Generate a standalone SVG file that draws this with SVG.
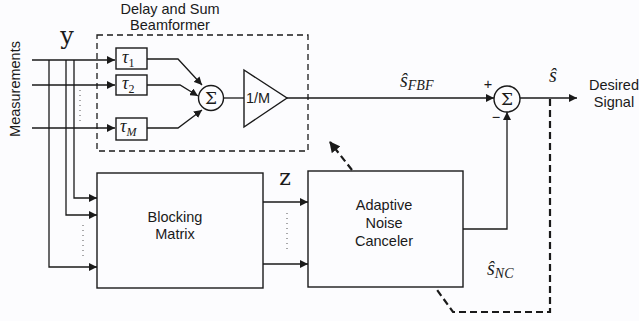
<svg xmlns="http://www.w3.org/2000/svg" width="639" height="321" viewBox="0 0 639 321">
<defs>
<marker id="ah" viewBox="0 0 10 10" refX="10" refY="5" markerWidth="8" markerHeight="8" markerUnits="userSpaceOnUse" orient="auto">
<path d="M0,0 L10,5 L0,10 Z" fill="#1a1a1a"/>
</marker>
<marker id="ahb" viewBox="0 0 10 10" refX="9" refY="5" markerWidth="11" markerHeight="11" markerUnits="userSpaceOnUse" orient="auto">
<path d="M0,0 L10,5 L0,10 Z" fill="#1a1a1a"/>
</marker>
</defs>
<style>
.ln{fill:none;stroke:#1a1a1a;stroke-width:1.3}
.box{fill:none;stroke:#1a1a1a;stroke-width:1.4}
.dash{fill:none;stroke:#1a1a1a;stroke-width:1.3;stroke-dasharray:6,4}
.thick{fill:none;stroke:#1a1a1a;stroke-width:2.2;stroke-dasharray:7,4}
.dots{fill:none;stroke:#555;stroke-width:1;stroke-dasharray:1,4}
.sans{font-family:"Liberation Sans",Arial,sans-serif;fill:#1a1a1a;font-size:14.5px}
.math{font-family:"Liberation Serif","DejaVu Serif",serif;fill:#1a1a1a;font-style:italic}
.bold{font-family:"DejaVu Serif","Liberation Serif",serif;fill:#1a1a1a}
.sig{font-family:"DejaVu Serif","Liberation Serif",serif;fill:#1a1a1a;font-size:17px}
</style>
<rect width="639" height="321" fill="#fcfcfe"/>

<text class="sans" transform="translate(20,89) rotate(-90)" text-anchor="middle">Measurements</text>
<text class="bold" x="67" y="44" font-size="24" text-anchor="middle">y</text>

<g id="beamformer">
<rect class="dash" x="97" y="35" width="211" height="116"/>
<text class="sans" x="170" y="14" text-anchor="middle">Delay and Sum</text>
<text class="sans" x="170" y="30" text-anchor="middle">Beamformer</text>
</g>

<g id="tau1">
<rect class="box" x="116" y="48" width="31" height="21"/>
<text class="math" x="122" y="63" font-size="18">τ<tspan font-size="12" font-style="normal" dy="4">1</tspan></text>
</g>
<g id="tau2">
<rect class="box" x="116" y="75" width="31" height="20"/>
<text class="math" x="122" y="89" font-size="18">τ<tspan font-size="12" font-style="normal" dy="4">2</tspan></text>
</g>
<g id="tauM">
<rect class="box" x="116" y="118" width="31" height="22"/>
<text class="math" x="120" y="132" font-size="18">τ<tspan font-size="12" dy="4">M</tspan></text>
</g>
<g id="sum1">
<circle class="box" cx="211" cy="98" r="12.5"/>
<text class="sig" x="211" y="104" text-anchor="middle">Σ</text>
</g>
<g id="gain">
<path class="box" d="M244,70 L287,98 L244,127 Z"/>
<text class="sans" x="258" y="103" font-size="12.5" text-anchor="middle">1/M</text>
</g>
<g id="sum2">
<circle class="box" cx="507" cy="99" r="13"/>
<text class="sig" x="507" y="105" text-anchor="middle">Σ</text>
<text class="sans" x="488" y="89" font-size="13" fill="#555" text-anchor="middle">+</text>
<text class="sans" x="496" y="122" font-size="14" text-anchor="middle">−</text>
</g>
<g id="blocking">
<rect class="box" x="97" y="173" width="166" height="115"/>
<text class="sans" x="175" y="222" text-anchor="middle">Blocking</text>
<text class="sans" x="175" y="239" text-anchor="middle">Matrix</text>
</g>
<g id="anc">
<rect class="box" x="308" y="171" width="155" height="116"/>
<text class="sans" x="384" y="210" text-anchor="middle">Adaptive</text>
<text class="sans" x="384" y="228" text-anchor="middle">Noise</text>
<text class="sans" x="384" y="246" text-anchor="middle">Canceler</text>
</g>
<g id="output">
<text class="sans" x="614" y="90" text-anchor="middle">Desired</text>
<text class="sans" x="614" y="107" text-anchor="middle">Signal</text>
</g>

<g id="labels">
<text class="math" x="400" y="87" font-size="20">ŝ<tspan font-size="14" dy="3">FBF</tspan></text>
<text class="math" x="549" y="82" font-size="20">ŝ</text>
<text class="math" x="487" y="275" font-size="20">ŝ<tspan font-size="14" dy="3">NC</tspan></text>
<text class="bold" x="285" y="185" font-size="22" text-anchor="middle">z</text>
</g>

<g id="connectors">
<path class="ln" d="M32,60 L115,60" marker-end="url(#ah)"/>
<path class="ln" d="M32,85 L115,85" marker-end="url(#ah)"/>
<path class="ln" d="M32,128 L115,128" marker-end="url(#ah)"/>
<path class="ln" d="M74,60 L74,198 L97,198" marker-end="url(#ah)"/>
<path class="ln" d="M66,60 L66,215 L97,215" marker-end="url(#ah)"/>
<path class="ln" d="M49,60 L49,267 L97,267" marker-end="url(#ah)"/>
<path class="dots" d="M80,90 L80,124"/>
<path class="dots" d="M83,225 L83,259"/>
<path class="dots" d="M287,213 L287,249"/>
<path class="ln" d="M147,59 L178,59 L202,85" marker-end="url(#ah)"/>
<path class="ln" d="M147,85 L180,85 L198,96" marker-end="url(#ah)"/>
<path class="ln" d="M147,128 L178,128 L202,110" marker-end="url(#ah)"/>
<path class="ln" d="M223.5,98 L244,98"/>
<path class="ln" d="M287,98 L494,98" marker-end="url(#ah)"/>
<path class="ln" d="M520,98 L577,98" marker-end="url(#ah)"/>
<path class="ln" d="M263,202 L308,202" marker-end="url(#ah)"/>
<path class="ln" d="M263,264 L308,264" marker-end="url(#ah)"/>
<path class="ln" d="M463,229 L507,229 L507,112" marker-end="url(#ah)"/>
<path class="thick" d="M550,99 L550,312 L453,312 L435,287"/>
<path class="thick" d="M352,170 L330,142" marker-end="url(#ahb)"/>
</g>
</svg>
